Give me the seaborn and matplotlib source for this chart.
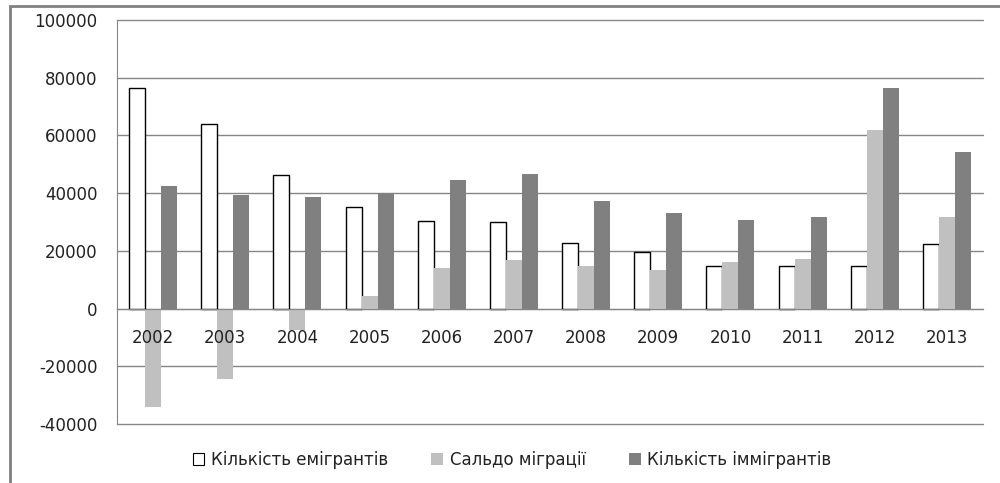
import pandas as pd
import matplotlib.pyplot as plt
import matplotlib.patches as mpatches
import seaborn as sns

# Data
years = ["2002", "2003", "2004", "2005", "2006", "2007",
         "2008", "2009", "2010", "2011", "2012", "2013"]
emigrants = [76400, 63800, 46400, 35200, 30300, 30000,
             22600, 19500, 14700, 14700, 14700, 22200]
saldo = [-34000, -24400, -7500, 4500, 14200, 16900,
         14800, 13200, 16100, 17000, 61800, 31800]
immigrants = [42600, 39400, 38600, 39900, 44400, 46600,
              37300, 33000, 30600, 31600, 76300, 54200]
series_names = ["Кількість емігрантів", "Сальдо міграції", "Кількість іммігрантів"]
colors = ["white", "#C0C0C0", "#808080"]
y_ticks = [-40000, -20000, 0, 20000, 40000, 60000, 80000, 100000]

df = pd.DataFrame({
    "year": years * 3,
    "value": emigrants + saldo + immigrants,
    "series": [series_names[0]] * 12 + [series_names[1]] * 12 + [series_names[2]] * 12,
})

sns.set_style("white")
plt.rcParams["font.family"] = ["DejaVu Sans"]
plt.rcParams["axes.unicode_minus"] = False

fig = plt.figure(figsize=(10, 4.83), dpi=100)
ax = fig.add_axes([0.117, 0.1222, 0.866, 0.8364])

sns.barplot(
    data=df, x="year", y="value", hue="series",
    hue_order=series_names, palette=colors,
    width=0.665, gap=0, saturation=1, legend=False, ax=ax,
)

# emigrant bars: white with black outline
for bar in ax.containers[0]:
    bar.set_edgecolor("black")
    bar.set_linewidth(1.0)
for cont in ax.containers[1:]:
    for bar in cont:
        bar.set_edgecolor("none")

ax.set_ylim(-40000, 100000)
ax.set_yticks(y_ticks)
ax.set_xlim(-0.5, 11.5)

# gridlines drawn behind the bars, tick labels stay on top
ax.set_axisbelow(False)
for t in y_ticks:
    ax.axhline(t, color="#868686", linewidth=1, zorder=0, clip_on=False)

for s in ["top", "right"]:
    ax.spines[s].set_visible(False)
ax.spines["left"].set_color("#868686")
ax.spines["bottom"].set_color("#868686")
ax.spines["bottom"].set_position(("data", 0))

ax.tick_params(axis="y", length=0, labelsize=12, pad=14, colors="#222222")
ax.tick_params(axis="x", which="major", length=0, labelsize=12, pad=15, colors="#222222")
ax.set_xticks([i - 0.5 for i in range(13)], minor=True)
ax.tick_params(axis="x", which="minor", length=5, color="#868686", direction="out")
ax.set_xlabel("")
ax.set_ylabel("")

handles = [mpatches.Patch(facecolor=c, edgecolor="black" if i == 0 else "none", linewidth=0.8)
           for i, c in enumerate(colors)]
fig.legend(handles, series_names, loc="center", bbox_to_anchor=(0.512, 0.048),
           ncol=3, frameon=False, fontsize=12, handlelength=0.7, handleheight=0.7,
           handletextpad=0.4, columnspacing=2.6, labelcolor="#222222")

# outer chart border (left and top visible)
fig.patches.append(mpatches.Rectangle((0.010, -0.1), 1.2, 1.088, transform=fig.transFigure,
                                      fill=False, edgecolor="#808080", linewidth=2))

plt.savefig("out.png", dpi=100)
